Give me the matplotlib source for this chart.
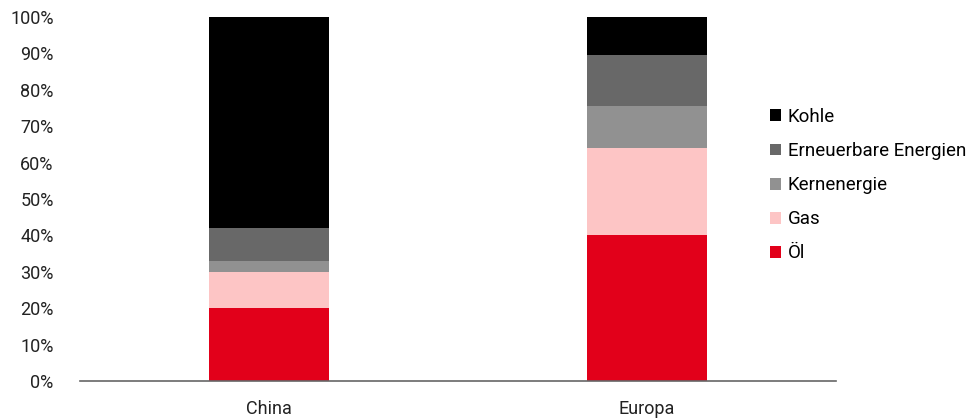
import matplotlib
matplotlib.use("Agg")
import matplotlib.pyplot as plt
from matplotlib.patches import Patch

categories = ["China", "Europa"]
series_names = ["Öl", "Gas", "Kernenergie", "Erneuerbare Energien", "Kohle"]
oel = [20, 40]
gas = [10, 24]
kern = [3, 11.5]
erneuerbar = [9, 14]
kohle = [58, 10.5]
yticks = [0, 10, 20, 30, 40, 50, 60, 70, 80, 90, 100]
ytick_labels = [f"{v}%" for v in yticks]

colors = ["#e2001a", "#fdc5c5", "#919191", "#686868", "#000000"]
series = [oel, gas, kern, erneuerbar, kohle]

plt.rcParams['font.family'] = ['Roboto', 'DejaVu Sans']
fig = plt.figure(figsize=(9.68, 4.18), dpi=100)
ax = fig.add_axes([80/968, 37/418, 756/968, 364/418])

x = list(range(len(categories)))
bottom = [0, 0]
for vals, col, name in zip(series, colors, series_names):
    ax.bar(x, vals, width=0.315, bottom=bottom, color=col, label=name, linewidth=0)
    bottom = [b + v for b, v in zip(bottom, vals)]

ax.set_xlim(-0.5, 1.5)
ax.set_ylim(0, 100)
ax.set_yticks(yticks)
ax.set_yticklabels(ytick_labels)
ax.set_xticks(x)
ax.set_xticklabels(categories)
ax.tick_params(axis='both', length=0, labelsize=13, colors="#222222")
ax.tick_params(axis='y', pad=19)
ax.tick_params(axis='x', pad=14)
for s in ["left", "right", "top"]:
    ax.spines[s].set_visible(False)
ax.spines["bottom"].set_color("#666666")
ax.spines["bottom"].set_linewidth(1.2)

handles = [Patch(facecolor=c, label=n) for c, n in zip(colors, series_names)][::-1]
fig.legend(handles=handles, loc="upper left", bbox_to_anchor=(770/968, 1 - 108/418),
           frameon=False, fontsize=13.5, handlelength=0.6, handleheight=0.6,
           handletextpad=0.35, labelspacing=0.86, borderaxespad=0, borderpad=0)

fig.savefig("out.png", dpi=100)
